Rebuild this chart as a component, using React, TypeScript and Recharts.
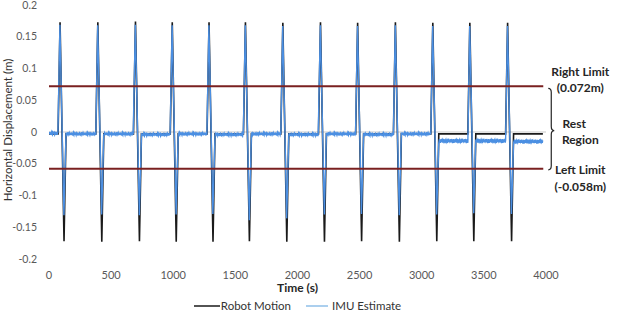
import React from 'react';
import { LineChart, Line, XAxis, YAxis, ReferenceLine, ReferenceArea, Legend } from 'recharts';

// Axis ticks
const xTicks = [0, 500, 1000, 1500, 2000, 2500, 3000, 3500, 4000];
const yTicks = [-0.2, -0.15, -0.1, -0.05, 0, 0.05, 0.1, 0.15, 0.2];

// Cycle peak times (s)
const peakTimes = [89, 393, 696, 992, 1288, 1581, 1882, 2185, 2484, 2788, 3089, 3387, 3691];
// Robot motion extremes per cycle (m)
const robotPeaks = [0.173, 0.173, 0.174, 0.173, 0.173, 0.173, 0.172, 0.173, 0.172, 0.173, 0.172, 0.172, 0.172];
const robotTroughs = [-0.172, -0.173, -0.172, -0.173, -0.173, -0.172, -0.173, -0.173, -0.172, -0.173, -0.172, -0.172, -0.172];
const robotRest = -0.003;
// IMU estimate extremes per cycle (m)
const imuPeaks = [0.169, 0.168, 0.169, 0.168, 0.168, 0.168, 0.167, 0.168, 0.167, 0.168, 0.167, 0.167, 0.167];
const imuTroughs = [-0.131, -0.13, -0.131, -0.13, -0.129, -0.139, -0.136, -0.13, -0.129, -0.131, -0.13, -0.128, -0.129];
// IMU rest level in each rest segment (before first cycle, then after each cycle)
const imuRestLevels = [-0.002, -0.003, -0.003, -0.004, -0.003, -0.004, -0.003, -0.004, -0.003, -0.004, -0.003, -0.014, -0.014, -0.015];
// IMU noise amplitude in each rest segment
const imuNoiseAmp = [0.0028, 0.0028, 0.0028, 0.0028, 0.0028, 0.0028, 0.0028, 0.0028, 0.0028, 0.0028, 0.0028, 0.0038, 0.0038, 0.0038];
// Hand-read noise shape (relative units)
const noisePattern = [0.3, -0.6, 0.8, -0.2, 0.5, -0.9, 0.1, 0.7, -0.4, -0.8, 0.6, 0.2, -0.5, 0.9, -0.1, -0.7, 0.4, 0.0, -0.3, 0.8, -0.6, 0.5, -0.9, 0.3, 0.6, -0.2, -0.5, 0.7, -0.8, 0.2, 0.9, -0.4, 0.1, -0.6, 0.5, -0.1, 0.4];

const rightLimit = 0.072;
const leftLimit = -0.058;
const limitEnd = 3978;
const dataEnd = 3975;
const riseLead = 16;
const fallSpan = 32;
const returnSpan = 16;
const sampleStep = 3;

type Pt = { t: number; v: number };

const robotData: Pt[] = [{ t: 0, v: robotRest }];
peakTimes.forEach((p, i) => {
  robotData.push(
    { t: p - riseLead, v: robotRest },
    { t: p, v: robotPeaks[i] },
    { t: p + fallSpan, v: robotTroughs[i] },
    { t: p + fallSpan + returnSpan, v: robotRest }
  );
});
robotData.push({ t: dataEnd, v: robotRest });

const segStarts = [0, ...peakTimes.map((p) => p + fallSpan + returnSpan)];
const segEnds = [...peakTimes.map((p) => p - riseLead), dataEnd];
const imuData: Pt[] = [];
let n = 0;
segStarts.forEach((s, k) => {
  for (let t = s; t <= segEnds[k]; t += sampleStep) {
    imuData.push({ t, v: imuRestLevels[k] + noisePattern[n % noisePattern.length] * imuNoiseAmp[k] });
    n++;
  }
  if (k < peakTimes.length) {
    const p = peakTimes[k];
    imuData.push({ t: p - 1, v: imuPeaks[k] }, { t: p + fallSpan - 1, v: imuTroughs[k] });
  }
});

const FONT = 'Lato, "Open Sans", sans-serif';

const XTitle = (props: any) => {
  const vb = props.viewBox || { x: 49, y: 259, width: 497 };
  return (
    <text x={vb.x + vb.width / 2} y={vb.y + 33} textAnchor="middle" fontFamily={FONT} fontSize={12} fontWeight={700} fill="#262626">
      Time (s)
    </text>
  );
};

const YTitle = (props: any) => {
  const vb = props.viewBox || { x: 0, y: 4, width: 49, height: 255 };
  const cx = vb.x + 7;
  const cy = vb.y + vb.height / 2 - 2;
  return (
    <text x={cx} y={cy} textAnchor="middle" dominantBaseline="central" transform={`rotate(-90 ${cx} ${cy})`} fontFamily={FONT} fontSize={11.5} fill="#333">
      Horizontal Displacement (m)
    </text>
  );
};

const RestAnnotation = (props: any) => {
  const vb = props.viewBox;
  if (!vb) return null;
  const top = vb.y;
  const bot = vb.y + vb.height;
  const bx = vb.x + vb.width + 5;
  const tipY = (top + bot) / 2 + 3;
  const tx = bx + 32;
  const t = { fontFamily: FONT, fontSize: 12, fontWeight: 700, fill: '#262626', textAnchor: 'middle' as const, dominantBaseline: 'central' as const };
  const d = `M ${bx} ${top + 2} Q ${bx + 3} ${top + 2} ${bx + 3} ${top + 6} L ${bx + 3} ${tipY - 4} Q ${bx + 3} ${tipY} ${bx + 6} ${tipY} Q ${bx + 3} ${tipY} ${bx + 3} ${tipY + 4} L ${bx + 3} ${bot - 3} Q ${bx + 3} ${bot + 1} ${bx} ${bot + 1}`;
  return (
    <g>
      <path d={d} fill="none" stroke="#262626" strokeWidth={1.2} />
      <text x={tx} y={top - 14.5} {...t}>Right Limit</text>
      <text x={tx} y={top + 1.5} {...t}>(0.072m)</text>
      <text x={tx - 6} y={tipY - 7} {...t}>Rest</text>
      <text x={tx} y={tipY + 9} {...t}>Region</text>
      <text x={tx} y={bot + 0.5} {...t}>Left Limit</text>
      <text x={tx} y={bot + 17.5} {...t}>(-0.058m)</text>
    </g>
  );
};

const renderLegend = () => (
  <div style={{ display: 'flex', justifyContent: 'center', alignItems: 'center', fontFamily: FONT, fontSize: 11.5, color: '#333', lineHeight: '14px' }}>
    <svg width={26} height={4} style={{ display: 'block' }}>
      <line x1={0} y1={2} x2={26} y2={2} stroke="#1a1a1a" strokeWidth={1.5} />
    </svg>
    <span style={{ marginLeft: 1 }}>Robot Motion</span>
    <svg width={22} height={4} style={{ display: 'block', marginLeft: 15 }}>
      <line x1={0} y1={2} x2={22} y2={2} stroke="#8fbfe8" strokeWidth={1.5} />
    </svg>
    <span style={{ marginLeft: 4 }}>IMU Estimate</span>
  </div>
);

export default function App() {
  return (
    <div style={{ position: 'absolute', left: 0, top: 0, width: 624, height: 317, background: '#fff' }}>
      <LineChart width={624} height={317} margin={{ top: 5, right: 78, bottom: 28, left: 0 }}>
        <XAxis
          dataKey="t"
          type="number"
          domain={[0, 4000]}
          ticks={xTicks}
          interval={0}
          allowDataOverflow
          tickLine={false}
          axisLine={false}
          tickSize={0}
          tickMargin={12}
          height={30}
          tick={{ fontSize: 11, fill: '#595959', fontFamily: FONT }}
          label={{ content: XTitle }}
        />
        <YAxis
          type="number"
          domain={[-0.2, 0.2]}
          ticks={yTicks}
          interval={0}
          allowDataOverflow
          tickLine={false}
          axisLine={false}
          tickSize={0}
          tickMargin={12}
          width={49}
          tick={{ fontSize: 10.5, fill: '#595959', fontFamily: FONT }}
          label={{ content: YTitle }}
        />
        <ReferenceLine y={0} stroke="#c8c8c8" strokeWidth={1} />
        <Line data={robotData} dataKey="v" type="linear" stroke="#1a1a1a" strokeWidth={1.6} dot={false} activeDot={false} isAnimationActive={false} name="Robot Motion" />
        <Line data={imuData} dataKey="v" type="linear" stroke="#4b8fe2" strokeWidth={1.4} dot={false} activeDot={false} isAnimationActive={false} name="IMU Estimate" />
        <ReferenceLine segment={[{ x: 0, y: rightLimit }, { x: limitEnd, y: rightLimit }]} stroke="#7a2020" strokeWidth={2} />
        <ReferenceLine segment={[{ x: 0, y: leftLimit }, { x: limitEnd, y: leftLimit }]} stroke="#7a2020" strokeWidth={2} />
        <ReferenceArea x1={0} x2={limitEnd} y1={leftLimit} y2={rightLimit} fill="none" fillOpacity={0} stroke="none" label={{ content: RestAnnotation }} />
        <Legend
          layout="horizontal"
          verticalAlign="middle"
          align="center"
          content={renderLegend}
          wrapperStyle={{ top: 299, left: 49, width: 497 }}
        />
      </LineChart>
    </div>
  );
}
